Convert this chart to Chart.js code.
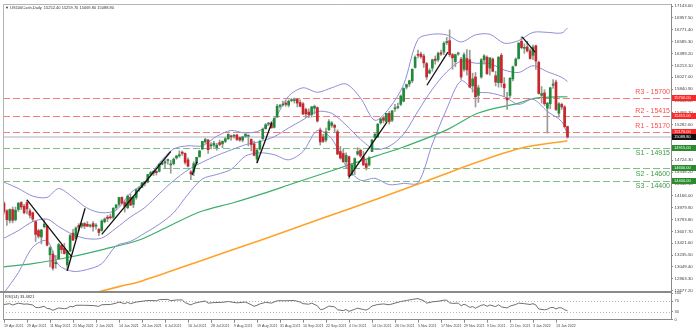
<!DOCTYPE html>
<html>
<head>
<meta charset="utf-8">
<script src="https://cdn.jsdelivr.net/npm/chart.js@4.4.1/dist/chart.umd.min.js"></script>
<style>
  html, body { margin: 0; padding: 0; background: #fff; }
  #wrap { position: relative; width: 696px; height: 329px; overflow: hidden; }
  #main { position: absolute; left: 0; top: 0; }
  #rsi { position: absolute; left: 0; top: 289px; }
</style>
</head>
<body>
<div id="wrap">
  <canvas id="main" width="696" height="296"></canvas>
  <canvas id="rsi" width="696" height="40"></canvas>
</div>
<script>
// US100Cash daily, 19 Apr 2021 .. 19 Jan 2022 (bar index 0..196)
const opens = [
  14050,13930,13780,13950,13790,13950,14060,14000,14060,13930,
  13900,13760,13620,13520,13680,13690,13240,13250,13100,13180,
  13390,13340,13080,13300,13580,13500,13700,13690,13730,13720,
  13690,13730,13690,13640,13620,13760,13830,13830,13830,13980,
  14030,14140,14060,13980,14140,14030,14140,14270,14300,14380,
  14380,14500,14520,14550,14550,14660,14680,14720,14650,14670,
  14760,14790,14850,14830,14730,14540,14540,14680,14780,14900,
  15010,15040,14950,14960,14920,15000,14980,15020,15060,15100,
  15100,15120,15080,15040,15100,15100,15050,14980,14740,14900,
  15060,15220,15290,15300,15240,15400,15570,15590,15620,15590,
  15660,15660,15680,15630,15610,15520,15480,15440,15540,15550,
  15200,15090,15040,15200,15270,15270,15170,14860,14830,14700,
  14780,14500,14600,14820,14880,14780,14670,14650,14860,15080,
  15090,15310,15390,15330,15460,15350,15530,15550,15600,15650,
  15870,15920,15970,16180,16380,16390,16360,16240,16090,16170,
  16310,16300,16410,16420,16570,16600,16380,16270,16390,16310,
  16150,16320,16300,15890,16030,15740,16030,16300,16340,16170,
  16310,16050,15940,16370,15920,15700,15740,16000,16210,16320,
  16590,16480,16500,16440,16370,16520,16260,15740,15780,15540,
  15610,15900,15950,15460,15600,15560,15252.4
];
const highs = [
  14070,13950,13960,13990,13990,14060,14075,14030,14100,13960,
  13910,13770,13640,13640,13790,13700,13370,13300,13230,13420,
  13400,13420,13310,13560,13640,13680,13730,13740,13745,13760,
  13720,13760,13730,13650,13790,13820,13860,13880,13980,14030,
  14140,14150,14100,14180,14190,14160,14270,14300,14380,14390,
  14500,14550,14560,14560,14670,14690,14730,14740,14720,14760,
  14800,14870,14870,14840,14760,14560,14700,14770,14880,15020,
  15070,15050,15000,15020,14990,15040,15030,15080,15140,15120,
  15130,15130,15090,15100,15140,15120,15060,15020,14900,15040,
  15230,15300,15320,15330,15390,15600,15600,15650,15660,15670,
  15690,15700,15690,15670,15630,15540,15530,15570,15590,15560,
  15230,15130,15230,15360,15330,15290,15200,14940,14900,14840,
  14790,14680,14760,14920,14900,14860,14720,14780,15050,15150,
  15300,15390,15410,15460,15490,15500,15600,15620,15750,15860,
  15920,15980,16160,16360,16450,16420,16390,16260,16160,16310,
  16360,16420,16450,16580,16650,16770,16400,16390,16420,16340,
  16410,16460,16450,16090,16100,15900,16320,16380,16360,16330,
  16330,16120,16350,16400,16020,15790,16020,16200,16330,16570,
  16660,16550,16590,16470,16530,16530,16280,15880,15830,15630,
  15870,15990,15980,15630,15620,15580,15259.7
];
const lows = [
  13880,13700,13740,13740,13770,13920,13950,13880,13880,13820,
  13760,13450,13500,13410,13660,13380,13050,13000,13030,13170,
  13260,13250,12990,13290,13460,13490,13620,13660,13650,13680,
  13670,13610,13640,13540,13610,13740,13760,13800,13800,13950,
  14000,14040,13910,13960,14010,13980,14110,14240,14290,14320,
  14370,14480,14480,14490,14540,14650,14590,14660,14520,14650,
  14740,14770,14800,14660,14620,14420,14480,14670,14770,14890,
  14990,14830,14900,14930,14880,14950,14920,15000,15050,15040,
  15070,15030,15020,15010,15080,14950,14870,14790,14680,14880,
  15050,15210,15270,15230,15230,15400,15540,15570,15570,15560,
  15640,15620,15560,15560,15440,15390,15390,15400,15450,15320,
  14960,15000,15010,15190,15240,15160,14810,14740,14690,14590,
  14440,14480,14500,14800,14770,14640,14570,14630,14860,15070,
  15080,15290,15310,15320,15290,15330,15490,15530,15580,15640,
  15840,15880,15940,16170,16330,16320,16180,15990,16080,16120,
  16230,16270,16370,16380,16540,16350,16150,16190,16370,15990,
  16120,16060,15860,15790,15560,15630,16010,16230,16070,16060,
  16110,15890,15870,15870,15720,15520,15700,15970,16200,16310,
  16470,16400,16420,16310,16300,16150,15760,15620,15580,15150,
  15530,15850,15500,15400,15520,15230,15069.8
];
const closes = [
  13920,13790,13950,13780,13940,14050,13990,13900,13960,13860,
  13800,13560,13530,13630,13720,13390,13350,13030,13120,13400,
  13320,13260,13290,13540,13470,13660,13670,13730,13690,13690,
  13700,13680,13700,13590,13770,13800,13810,13820,13970,14020,
  14140,14050,14000,14160,14020,14150,14260,14270,14370,14360,
  14500,14530,14550,14530,14660,14680,14700,14730,14660,14740,
  14790,14810,14830,14690,14630,14510,14670,14770,14870,15020,
  15050,14890,14950,14990,14960,14970,15020,15060,15130,15090,
  15110,15050,15040,15090,15130,15110,14970,14800,14880,15020,
  15210,15280,15300,15230,15380,15570,15580,15600,15600,15650,
  15670,15670,15620,15570,15450,15450,15440,15560,15570,15340,
  15010,15020,15170,15330,15310,15240,14820,14760,14700,14800,
  14480,14650,14750,14860,14790,14650,14610,14760,15040,15130,
  15290,15370,15350,15460,15330,15500,15530,15560,15730,15850,
  15910,15970,16150,16340,16370,16350,16250,16030,16130,16300,
  16290,16400,16390,16560,16580,16380,16330,16380,16400,16030,
  16380,16140,15870,16000,15720,15860,16300,16360,16080,16330,
  16120,15950,16340,15940,15860,15670,16010,16190,16310,16560,
  16490,16490,16440,16320,16500,16280,15770,15770,15610,15620,
  15860,15920,15520,15610,15560,15250,15088.8
];

// Bollinger bands (20, 2), sampled every few bars
const bandIdx = [0,5,10,15,19,24,29,34,39,44,49,54,59,64,69,74,79,84,89,94,99,104,109,114,119,124,129,134,139,144,149,154,159,164,169,174,179,184,189,194,196];
const bandMid = [13500,13620,13760,13800,13683,13558,13492,13502,13659,13833,13982,14198,14403,14572,14693,14797,14885,14968,15015,15093,15230,15358,15487,15459,15275,15052,14894,14942,15134,15495,15838,16110,16277,16246,16239,16139,16100,16206,16112,16025,15958];
const bandUp = [14380,14280,14160,14140,14280,14140,13970,13900,13940,14210,14380,14680,14900,14950,14950,15100,15190,15150,15190,15370,15730,15860,15790,15860,15920,15700,15350,15540,15910,16620,16700,16690,16580,16690,16700,16560,16600,16730,16730,16720,16800];
const bandLow = [12640,12960,13360,13460,13080,12980,13010,13100,13380,13450,13580,13720,13900,14190,14430,14500,14580,14790,14840,14810,14730,14860,15190,15060,14630,14410,14440,14340,14360,14370,14980,15530,15970,15800,15780,15720,15600,15680,15490,15330,15120];

// 100 and 200 day moving averages
const ma100Idx = [0,10,23,35,47,57,68,80,90,100,110,120,130,138,154,165,179,185,196];
const ma100 = [13050,13100,13205,13330,13472,13680,13911,14060,14200,14350,14500,14650,14800,14915,15200,15465,15620,15700,15720];
const ma200Idx = [28,40,48,68,90,110,130,150,165,180,196];
const ma200 = [12600,12740,12830,13140,13480,13800,14120,14450,14700,14915,15030];

// hand drawn trend lines: [fromIdx, fromPrice, toIdx, toPrice]
const trendLines = [
  [8, 14100, 23.5, 13210],
  [22, 12990, 28.2, 13970],
  [34, 13560, 58, 14860],
  [65.4, 14490, 67.1, 14700],
  [88, 14680, 93.2, 15320],
  [120, 14460, 133.2, 15320],
  [147.1, 15900, 154.4, 16420],
  [180.2, 16660, 184.7, 16420]
];

// support / resistance
const levelNames = ['R3', 'R2', 'R1', 'S1', 'S2', 'S3'];
const levelValues = [15700, 15415, 15170, 14915, 14600, 14400];

const priceTicks = [17143.60,16957.50,16771.40,16585.30,16399.20,16213.10,16027.00,15840.90,15654.80,15468.70,15282.60,15096.50,14910.40,14724.30,14538.20,14352.10,14166.00,13979.90,13793.80,13607.70,13421.60,13235.50,13049.40,12863.30,12677.20];

// RSI(14)
const rsiIdx = [0,2,3,5,7,8,10,11,12,14,15,16,17,19,21,22,23,24,25,28,31,33,34,37,39,40,42,43,44,46,48,50,53,54,57,58,60,62,63,65,66,68,70,71,73,76,78,81,84,86,87,88,89,91,93,95,98,101,103,104,106,107,109,110,111,113,115,116,118,119,120,122,123,125,126,127,128,130,132,134,136,138,140,142,144,146,147,149,151,153,154,155,156,158,159,160,161,162,163,164,166,167,168,169,171,172,173,175,176,178,179,181,183,184,185,186,188,189,190,191,192,193,194,195,196];
const rsiVals = [57,60,55,62,58,59,55,46,45,50,42,41,35,44,41,43,50,48,54,54,53,50,56,57,62,66,60,65,60,66,69,72,71,75,76,71,74,74,64,55,61,66,70,62,64,65,68,63,66,56,50,54,59,65,62,71,71,72,66,60,58,62,52,38,39,51,48,37,34,38,31,39,43,38,36,42,51,57,59,56,62,68,72,76,79,71,62,67,69,73,73,63,61,62,52,58,53,46,49,43,54,56,50,55,49,56,48,44,51,57,62,60,57,60,55,40,37,39,45,46,40,45,44,37,33.4821];
const rsiLevels = [30, 70];

const xTickIdx = [0,8,16,24,32,40,48,56,64,72,80,88,96,104,112,120,128,136,144,152,160,168,176,184,192];
const xTickLabels = ['19 Apr 2021','29 Apr 2021','11 May 2021','21 May 2021','2 Jun 2021','14 Jun 2021','24 Jun 2021','6 Jul 2021','16 Jul 2021','28 Jul 2021','9 Aug 2021','19 Aug 2021','31 Aug 2021','10 Sep 2021','22 Sep 2021','4 Oct 2021','14 Oct 2021','26 Oct 2021','5 Nov 2021','17 Nov 2021','29 Nov 2021','9 Dec 2021','21 Dec 2021','3 Jan 2022','13 Jan 2022'];

const X_MIN = -0.35, X_MAX = 232;
const FONT = '"Liberation Sans", Arial, sans-serif';
const UP = '#21893a', DOWN = '#c9252b', WICK = '#9a9a9a';
const BAND = '#8d8dd6', MA100 = '#3dae6a', MA200 = '#ffa228';
const RES = '#f47c7c', SUP = '#7fbf86';

const last = closes.length - 1;
const pts = (idx, vals) => idx.map((x, k) => ({ x, y: vals[k] }));

function lineSet(data, color, width) {
  return { type: 'line', data, borderColor: color, borderWidth: width, pointRadius: 0, tension: 0.3, order: 3 };
}

const datasets = [
  { type: 'bar', data: opens.map((o, i) => ({ x: i, y: [lows[i], highs[i]] })), backgroundColor: WICK, barThickness: 1, grouped: false, order: 2 },
  { type: 'bar', data: opens.map((o, i) => ({ x: i, y: [o, closes[i]] })), backgroundColor: c => closes[c.dataIndex] >= opens[c.dataIndex] ? UP : DOWN, barThickness: 2, minBarLength: 1, grouped: false, order: 1 },
  lineSet(pts(bandIdx, bandUp), BAND, 1),
  lineSet(pts(bandIdx, bandMid), BAND, 1),
  lineSet(pts(bandIdx, bandLow), BAND, 1),
  lineSet(pts(ma100Idx, ma100), MA100, 1.2),
  lineSet(pts(ma200Idx, ma200), MA200, 1.6)
];
trendLines.forEach(t => {
  datasets.push({ type: 'line', data: [{ x: t[0], y: t[1] }, { x: t[2], y: t[3] }], borderColor: '#111', borderWidth: 1.3, pointRadius: 0, order: 0 });
});

function priceBox(ctx, y, color, text) {
  ctx.fillStyle = color;
  ctx.fillRect(672, Math.round(y) - 3, 24, 6);
  ctx.fillStyle = '#fff';
  ctx.font = '4px ' + FONT;
  ctx.textAlign = 'left';
  ctx.textBaseline = 'middle';
  ctx.fillText(text, 674, Math.round(y));
}

const levelsPlugin = {
  id: 'levels',
  beforeDatasetsDraw(chart) {
    const { ctx, chartArea: a, scales: { y } } = chart;
    ctx.save();
    const by = y.getPixelForValue(closes[last]);
    ctx.strokeStyle = '#c7cdd4';
    ctx.lineWidth = 1.5;
    ctx.beginPath(); ctx.moveTo(a.left, by); ctx.lineTo(a.right, by); ctx.stroke();
    ctx.lineWidth = 1;
    ctx.setLineDash([7, 3]);
    levelValues.forEach((v, k) => {
      const py = Math.round(y.getPixelForValue(v)) + 0.5;
      ctx.strokeStyle = levelNames[k][0] === 'R' ? RES : SUP;
      ctx.beginPath(); ctx.moveTo(a.left, py); ctx.lineTo(a.right, py); ctx.stroke();
    });
    ctx.restore();
  },
  afterDraw(chart) {
    const { ctx, chartArea: a, scales: { y } } = chart;
    ctx.save();
    // frame
    ctx.strokeStyle = '#b4b4b4';
    ctx.lineWidth = 1;
    ctx.beginPath();
    ctx.moveTo(a.left + 0.5, a.bottom); ctx.lineTo(a.left + 0.5, a.top + 0.5); ctx.lineTo(a.right, a.top + 0.5);
    ctx.stroke();
    // level captions
    ctx.font = '7px ' + FONT;
    ctx.textAlign = 'right';
    ctx.textBaseline = 'middle';
    levelValues.forEach((v, k) => {
      const isRes = levelNames[k][0] === 'R';
      const py = y.getPixelForValue(v);
      ctx.fillStyle = isRes ? '#ff4b4b' : '#3e9a44';
      ctx.fillText(levelNames[k] + ' - ' + v, a.right - 1, py + (isRes ? -5.5 : 5.5));
    });
    // axis price boxes
    levelValues.forEach((v, k) => {
      priceBox(ctx, y.getPixelForValue(v), levelNames[k][0] === 'R' ? '#ff2626' : '#2a8a2e', v.toFixed(2));
    });
    priceBox(ctx, y.getPixelForValue(closes[last]), '#111', closes[last].toFixed(2));
    // header
    ctx.fillStyle = '#333';
    ctx.font = '4px ' + FONT;
    ctx.textAlign = 'left';
    ctx.textBaseline = 'middle';
    ctx.fillText('\u25BC US100Cash,Daily  ' + [opens[last], highs[last], lows[last], closes[last]].map(v => v.toFixed(2)).join(' '), a.left + 2, a.top + 4);
    ctx.restore();
  }
};

new Chart(document.getElementById('main'), {
  type: 'bar',
  data: { datasets },
  options: {
    responsive: false,
    animation: false,
    devicePixelRatio: 1,
    events: [],
    layout: { padding: { left: 3, top: 4, right: 0, bottom: 4 } },
    plugins: { legend: { display: false }, tooltip: { enabled: false } },
    scales: {
      x: { type: 'linear', min: X_MIN, max: X_MAX, display: false, offset: false },
      y: {
        position: 'right',
        min: 12656,
        max: 17175,
        afterFit: s => { s.width = 25; },
        afterBuildTicks: s => { s.ticks = priceTicks.map(v => ({ value: v })); },
        ticks: { callback: v => v.toFixed(2), color: '#444', padding: 1.5, font: { size: 4.4, family: FONT, lineHeight: 1 }, autoSkip: false },
        grid: { drawOnChartArea: false, tickLength: 2, color: '#888' },
        border: { color: '#8a8a8a', width: 1 }
      }
    }
  },
  plugins: [levelsPlugin]
});

const rsiPlugin = {
  id: 'rsiDecor',
  beforeDatasetsDraw(chart) {
    const { ctx, chartArea: a, scales: { y } } = chart;
    ctx.save();
    ctx.strokeStyle = '#b8b8b8';
    ctx.lineWidth = 1;
    ctx.setLineDash([1, 2]);
    rsiLevels.forEach(v => {
      const py = Math.round(y.getPixelForValue(v)) + 0.5;
      ctx.beginPath(); ctx.moveTo(a.left, py); ctx.lineTo(a.right, py); ctx.stroke();
    });
    ctx.restore();
  },
  afterDraw(chart) {
    const { ctx, chartArea: a } = chart;
    ctx.save();
    ctx.fillStyle = '#8a8a8a';
    ctx.fillRect(0, a.top - 2, a.right, 2);
    ctx.strokeStyle = '#9a9a9a';
    ctx.lineWidth = 1;
    ctx.beginPath(); ctx.moveTo(a.left + 0.5, a.top); ctx.lineTo(a.left + 0.5, a.bottom); ctx.stroke();
    ctx.fillStyle = '#333';
    ctx.font = '4px ' + FONT;
    ctx.textBaseline = 'middle';
    ctx.fillText('RSI(14) ' + rsiVals[rsiVals.length - 1].toFixed(4), a.left + 2, a.top + 3.5);
    ctx.restore();
  }
};

new Chart(document.getElementById('rsi'), {
  type: 'line',
  data: {
    datasets: [{ data: pts(rsiIdx, rsiVals), borderColor: '#6f6f6f', borderWidth: 1, pointRadius: 0, tension: 0 }]
  },
  options: {
    responsive: false,
    animation: false,
    devicePixelRatio: 1,
    events: [],
    layout: { padding: { left: 3, top: 4, right: 0, bottom: 0 } },
    plugins: { legend: { display: false }, tooltip: { enabled: false } },
    scales: {
      x: {
        type: 'linear', min: X_MIN, max: X_MAX,
        afterBuildTicks: s => { s.ticks = xTickIdx.map(v => ({ value: v })); },
        ticks: { callback: (v, i) => xTickLabels[i], align: 'start', autoSkip: false, maxRotation: 0, minRotation: 0, color: '#444', padding: 1, font: { size: 3.6, family: FONT, lineHeight: 1.2 } },
        grid: { drawOnChartArea: false, tickLength: 3, color: '#888' },
        border: { color: '#8a8a8a' }
      },
      y: {
        position: 'right', min: 0, max: 100,
        afterFit: s => { s.width = 25; },
        afterBuildTicks: s => { s.ticks = [0, 30, 70, 100].map(v => ({ value: v })); },
        ticks: { color: '#444', padding: 1.5, font: { size: 4, family: FONT, lineHeight: 1 }, autoSkip: false },
        grid: { drawOnChartArea: false, tickLength: 2, color: '#888' },
        border: { color: '#8a8a8a' }
      }
    }
  },
  plugins: [rsiPlugin]
});
</script>
</body>
</html>
